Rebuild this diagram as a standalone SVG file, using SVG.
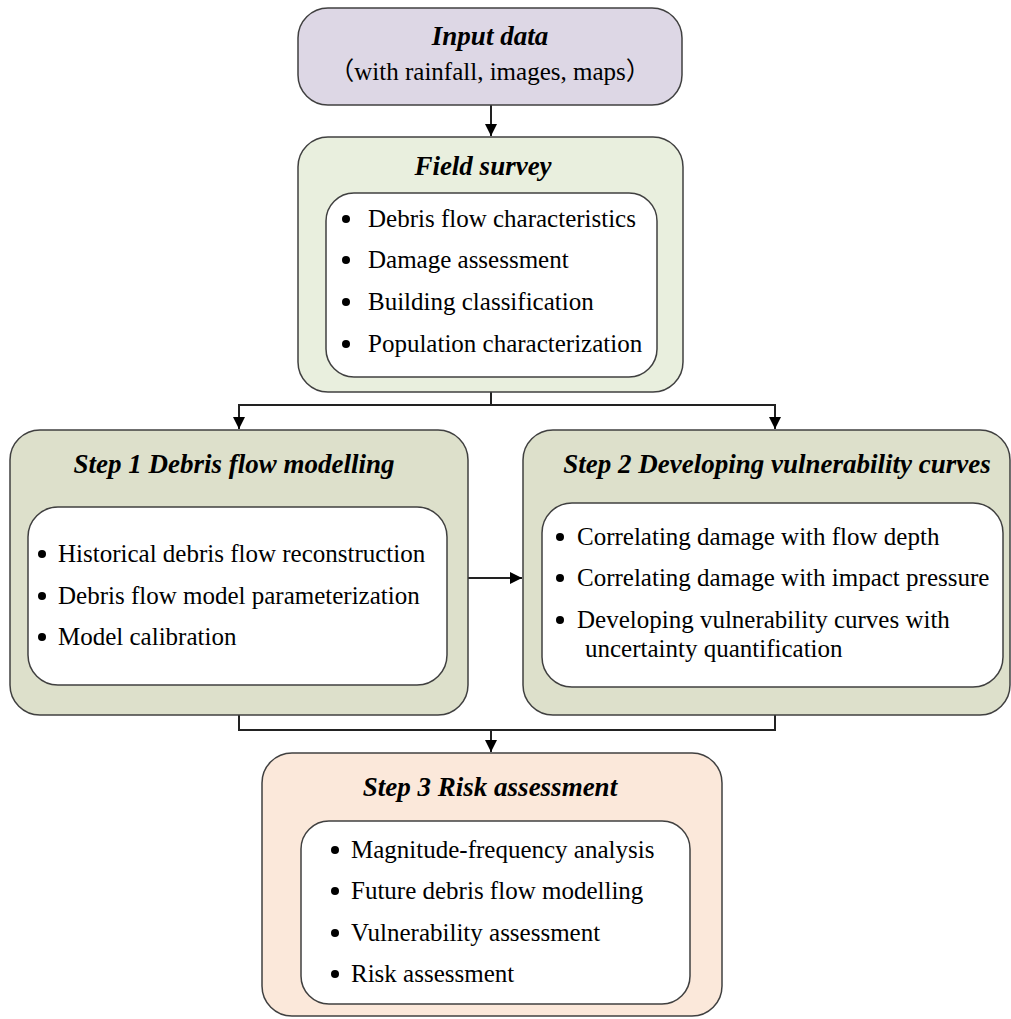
<svg xmlns="http://www.w3.org/2000/svg" width="1011" height="1019" viewBox="0 0 1011 1019">
<defs>
<marker id="ah" viewBox="0 0 12 12" markerWidth="12" markerHeight="12" refX="12" refY="6" orient="auto" markerUnits="userSpaceOnUse">
<path d="M0,0 L12,6 L0,12 Z" fill="#000"/>
</marker>
</defs>
<style>
.box{stroke:#404040;stroke-width:1.5}
.inner{fill:#fff;stroke:#404040;stroke-width:1.5}
.title{font-family:"Liberation Serif","Times New Roman",serif;font-size:27px;font-weight:bold;font-style:italic;fill:#000}
.body{font-family:"Liberation Serif","Times New Roman",serif;font-size:25px;fill:#000}
.sub{font-family:"Liberation Serif","Noto Sans CJK SC",serif;font-size:25px;fill:#000}
.conn{fill:none;stroke:#222;stroke-width:2}
</style>
<rect width="1011" height="1019" fill="#fff"/>
<g id="connectors">
<path class="conn" d="M491,105 V136" marker-end="url(#ah)"/>
<path class="conn" d="M491,392 V405 H239 V429" marker-end="url(#ah)"/>
<path class="conn" d="M491,405 H775 V429" marker-end="url(#ah)"/>
<path class="conn" d="M468,578 H522" marker-end="url(#ah)"/>
<path class="conn" d="M239,715 V730 H775 V715"/>
<path class="conn" d="M491,730 V752" marker-end="url(#ah)"/>
</g>
<g id="input-data">
<rect class="box" x="298" y="8" width="384" height="97" rx="30" fill="#ddd7e5"/>
<text class="title" x="490" y="45" text-anchor="middle">Input data</text>
<text class="sub" x="490" y="80" text-anchor="middle">（with rainfall, images, maps）</text>
</g>
<g id="field-survey">
<rect class="box" x="298" y="137" width="385" height="255" rx="30" fill="#e9efde"/>
<text class="title" x="483" y="175" text-anchor="middle">Field survey</text>
<rect class="inner" x="326" y="193" width="331" height="184" rx="28"/>
<g class="body">
<circle cx="346" cy="219" r="4"/><text x="368" y="227">Debris flow characteristics</text>
<circle cx="346" cy="260" r="4"/><text x="368" y="268">Damage assessment</text>
<circle cx="346" cy="302" r="4"/><text x="368" y="310">Building classification</text>
<circle cx="346" cy="344" r="4"/><text x="368" y="352">Population characterization</text>
</g>
</g>
<g id="step1">
<rect class="box" x="10" y="430" width="458" height="285" rx="30" fill="#dde0cb"/>
<text class="title" x="234" y="473" text-anchor="middle">Step 1 Debris flow modelling</text>
<rect class="inner" x="28" y="507" width="419" height="178" rx="30"/>
<g class="body">
<circle cx="42" cy="554" r="4"/><text x="58" y="562">Historical debris flow reconstruction</text>
<circle cx="42" cy="596" r="4"/><text x="58" y="604">Debris flow model parameterization</text>
<circle cx="42" cy="637" r="4"/><text x="58" y="645">Model calibration</text>
</g>
</g>
<g id="step2">
<rect class="box" x="523" y="430" width="487" height="285" rx="30" fill="#dde0cb"/>
<text class="title" x="777" y="473" text-anchor="middle">Step 2 Developing vulnerability curves</text>
<rect class="inner" x="542" y="503" width="461" height="184" rx="30"/>
<g class="body">
<circle cx="560" cy="537" r="4"/><text x="577" y="545">Correlating damage with flow depth</text>
<circle cx="560" cy="578" r="4"/><text x="577" y="586">Correlating damage with impact pressure</text>
<circle cx="560" cy="620" r="4"/><text x="577" y="628">Developing vulnerability curves with</text>
<text x="585" y="657">uncertainty quantification</text>
</g>
</g>
<g id="step3">
<rect class="box" x="262" y="753" width="460" height="263" rx="30" fill="#fbe8da"/>
<text class="title" x="490" y="796" text-anchor="middle">Step 3 Risk assessment</text>
<rect class="inner" x="301" y="821" width="389" height="183" rx="28"/>
<g class="body">
<circle cx="335" cy="850" r="4"/><text x="351" y="858">Magnitude-frequency analysis</text>
<circle cx="335" cy="891" r="4"/><text x="351" y="899">Future debris flow modelling</text>
<circle cx="335" cy="933" r="4"/><text x="351" y="941">Vulnerability assessment</text>
<circle cx="335" cy="974" r="4"/><text x="351" y="982">Risk assessment</text>
</g>
</g>
</svg>
